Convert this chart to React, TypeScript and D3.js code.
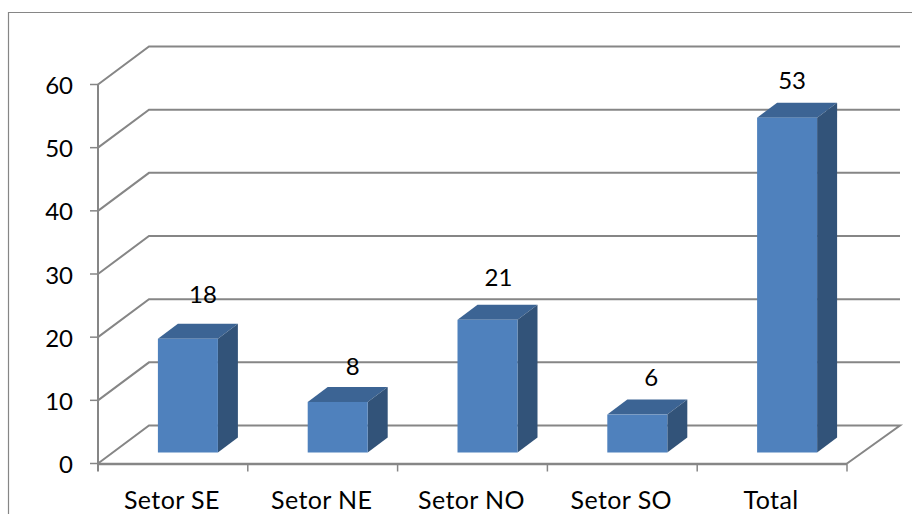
import React from "react";
import * as d3 from "d3";

const categories = ["Setor SE", "Setor NE", "Setor NO", "Setor SO", "Total"];
const values = [18, 8, 21, 6, 53];
const yTicks = [0, 10, 20, 30, 40, 50, 60];

const WIDTH = 912;
const HEIGHT = 514;
const FONT = "Lato, 'Open Sans', sans-serif";
const GRID = "#868686";
const labelLift = [44, 36, 42, 37, 37];
const labelShift = [15, 15, 11, 14, 5];

const x = d3.scaleBand<string>().domain(categories).range([98, 847]);
const y = d3.scaleLinear().domain([0, 60]).range([463.5, 84.5]);
const DEPTH_X = 51;
const DEPTH_Y = -38;
const BAR_W = 60;
const BAR_DX = 20;
const BAR_DY = -15;
const BASE_DY = -11;

export default function App() {
  const band = x.bandwidth();
  return (
    <svg
      width={WIDTH}
      height={HEIGHT}
      viewBox={`0 0 ${WIDTH} ${HEIGHT}`}
      style={{ position: "absolute", left: 0, top: 0, background: "#fff" }}
    >
      <path d={`M8.5,${HEIGHT} V12.5 H${WIDTH}`} fill="none" stroke={GRID} strokeWidth={1.2} />

      {/* back wall and floor gridlines */}
      {yTicks.map((t) => (
        <path
          key={`g${t}`}
          d={
            t === 0
              ? `M98,${y(0)} L${98 + DEPTH_X},${y(0) + DEPTH_Y} H${847 + DEPTH_X + 2} L847,${y(0)}`
              : `M98,${y(t)} L${98 + DEPTH_X},${y(t) + DEPTH_Y} H${847 + DEPTH_X + 2}`
          }
          fill="none"
          stroke={GRID}
          strokeWidth={2}
        />
      ))}

      {/* axes */}
      <line x1={98} x2={98} y1={y(60)} y2={y(0) + 8} stroke={GRID} strokeWidth={2} />
      <line x1={98} x2={847} y1={y(0) + 0.5} y2={y(0) + 0.5} stroke={GRID} strokeWidth={2.4} />
      {yTicks.map((t) => (
        <g key={`t${t}`}>
          <line x1={90} x2={98} y1={y(t)} y2={y(t)} stroke={GRID} strokeWidth={1.5} />
          <text x={73} y={y(t) + 1} dy="0.36em" textAnchor="end" fontFamily={FONT} fontSize={24} fill="#000">
            {t}
          </text>
        </g>
      ))}
      {categories.map((c) => (
        <g key={`c${c}`}>
          <line x1={(x(c) as number) + band} x2={(x(c) as number) + band} y1={y(0)} y2={y(0) + 8} stroke={GRID} strokeWidth={1.5} />
          <text x={(x(c) as number) + band / 2 - 1} y={508.5} textAnchor="middle" fontFamily={FONT} fontSize={25} letterSpacing={0.4} fill="#000">
            {c}
          </text>
        </g>
      ))}

      {/* bars */}
      {categories.map((c, i) => {
        const x0 = (x(c) as number) + (band - BAR_W) / 2 + 15;
        const x1 = x0 + BAR_W;
        const base = y(0) + BASE_DY;
        const top = base - (y(0) - y(values[i]));
        return (
          <g key={`b${c}`}>
            <polygon points={`${x0},${top} ${x0 + BAR_DX},${top + BAR_DY} ${x1 + BAR_DX},${top + BAR_DY} ${x1},${top}`} fill="#3c6494" />
            <polygon points={`${x1},${top} ${x1 + BAR_DX},${top + BAR_DY} ${x1 + BAR_DX},${base + BAR_DY} ${x1},${base}`} fill="#325379" />
            <rect x={x0} y={top} width={BAR_W} height={base - top} fill="#4f81bd" />
            <text
              x={x0 + BAR_W / 2 + labelShift[i]}
              y={top - labelLift[i]}
              dy="0.36em"
              textAnchor="middle"
              fontFamily={FONT}
              fontSize={24}
              fill="#000"
            >
              {values[i]}
            </text>
          </g>
        );
      })}
    </svg>
  );
}
